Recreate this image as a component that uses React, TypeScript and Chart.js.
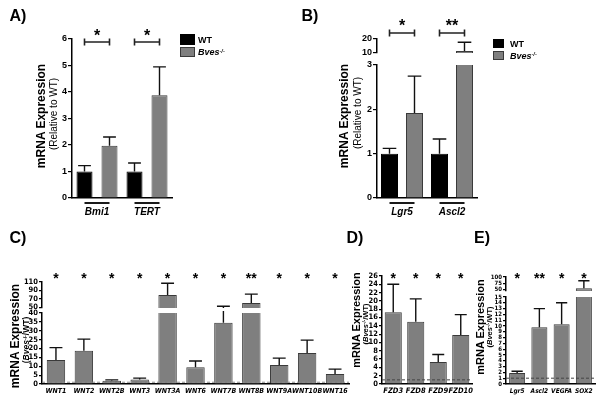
import React, { useEffect, useRef } from 'react';
import { Chart, registerables } from 'chart.js';
Chart.register(...registerables);

const FONT = "'Liberation Sans', Arial, Helvetica, sans-serif";
const NARROW = "'Liberation Sans Narrow', 'Arial Narrow', 'DejaVu Sans Condensed', 'Liberation Sans', sans-serif";
const GRAY = '#7f7f7f';
const EDGE = '#3a3a3a';

// ---------- Panel A ----------
const aGenes = ['Bmi1', 'TERT'];
const aWT = [1.0, 1.0];
const aWTErr = [0.22, 0.32];
const aKO = [1.97, 3.88];
const aKOErr = [0.33, 1.07];
const aTicks = [0, 1, 2, 3, 4, 5, 6];
const aSig = ['*', '*'];

// ---------- Panel B ----------
const bGenes = ['Lgr5', 'Ascl2'];
const bWT = [1.0, 1.0];
const bWTErr = [0.12, 0.33];
const bKO = [1.92, 11];
const bKOErr = [0.83, 6.6];
const bTicksLow = [0, 1, 2, 3];
const bTicksHigh = [10, 20];
const bSig = ['*', '**'];

// ---------- Panel C ----------
const cGenes = ['WNT1', 'WNT2', 'WNT2B', 'WNT3', 'WNT3A', 'WNT6', 'WNT7B', 'WNT8B', 'WNT9A', 'WNT10B', 'WNT16'];
const cVals = [13.5, 18.7, 1.8, 2.5, 79, 9.5, 34.5, 60, 10.7, 17.4, 5.6];
const cErr = [7.0, 6.6, 0.5, 0.8, 28, 3.5, 17.5, 21, 3.9, 7.3, 2.8];
const cSig = ['*', '*', '*', '*', '*', '*', '*', '**', '*', '*', '*'];
const cTicksLow = [0, 5, 10, 15, 20, 25, 30, 35, 40];
const cTicksHigh = [50, 70, 90, 110];

// ---------- Panel D ----------
const dGenes = ['FZD3', 'FZD8', 'FZD9', 'FZD10'];
const dVals = [17.3, 15.0, 5.3, 11.8];
const dErr = [6.7, 5.5, 1.8, 4.9];
const dSig = ['*', '*', '*', '*'];
const dTicks = [0, 2, 4, 6, 8, 10, 12, 14, 16, 18, 20, 22, 24, 26];

// ---------- Panel E ----------
const eGenes = ['Lgr5', 'Ascl2', 'VEGFA', 'SOX2'];
const eVals = [1.9, 9.8, 10.3, 56];
const eErr = [0.3, 3.2, 3.7, 29];
const eSig = ['*', '**', '*', '*'];
const eTicksLow = [0, 1, 2, 3, 4, 5, 6, 7, 8, 9, 10, 11, 12, 13, 14, 15];
const eTicksHigh = [50, 75, 100];

type Box = { x: number; y: number; w: number; h: number };
type Area = { l: number; t: number; r: number; b: number };
type DS = { data: number[]; color: string; border: string; err: number[] };
type Spec = {
  box: Box; area: Area; labels: string[]; datasets: DS[];
  min: number; max: number; ticks: number[]; yFont: number; yw: number; tickLen: number;
  family: string;
  showX: boolean; xFont?: number; xPad?: number; xh?: number; barPct: number;
  refLine?: number; refColor?: string; capFrac?: number;
  stars?: { labels: string[]; cy: number; size: number };
  brackets?: { labels: string[]; lineY: number; starCy: number; size: number };
  overline?: boolean;
};

function makePlugin(s: Spec) {
  return {
    id: 'annot',
    afterDatasetsDraw(chart: any) {
      const ctx = chart.ctx;
      const a = chart.chartArea;
      const ys = chart.scales.y;
      ctx.save();
      ctx.beginPath();
      ctx.rect(a.left, a.top - 2, a.right - a.left, a.bottom - a.top + 2);
      ctx.clip();
      if (s.refLine !== undefined) {
        const y = ys.getPixelForValue(s.refLine);
        ctx.setLineDash([3, 2]);
        ctx.strokeStyle = s.refColor || '#555';
        ctx.lineWidth = 1;
        ctx.beginPath();
        ctx.moveTo(a.left, y);
        ctx.lineTo(a.right, y);
        ctx.stroke();
        ctx.setLineDash([]);
      }
      ctx.strokeStyle = '#111';
      ctx.lineWidth = 1.4;
      s.datasets.forEach((ds, di) => {
        const meta = chart.getDatasetMeta(di);
        meta.data.forEach((bar: any, i: number) => {
          const v = ds.data[i];
          const e = ds.err[i];
          const y0 = ys.getPixelForValue(v);
          const y1 = ys.getPixelForValue(v + e);
          const hw = bar.width * (s.capFrac ?? 0.3);
          ctx.beginPath();
          ctx.moveTo(bar.x, y0);
          ctx.lineTo(bar.x, y1);
          ctx.moveTo(bar.x - hw, y1);
          ctx.lineTo(bar.x + hw, y1);
          ctx.stroke();
        });
      });
      ctx.restore();

      ctx.save();
      ctx.fillStyle = '#000';
      ctx.strokeStyle = '#222';
      ctx.textAlign = 'center';
      ctx.textBaseline = 'alphabetic';
      const oy = s.box.y;
      if (s.stars) {
        const st = s.stars;
        ctx.font = `bold ${st.size}px ${FONT}`;
        const meta = chart.getDatasetMeta(0);
        st.labels.forEach((lab, i) => {
          const x = meta.data[i].x;
          ctx.fillText(lab, x, st.cy - oy + st.size * 0.57);
        });
      }
      if (s.brackets) {
        const br = s.brackets;
        const m0 = chart.getDatasetMeta(0);
        const m1 = chart.getDatasetMeta(1);
        ctx.font = `bold ${br.size}px ${FONT}`;
        ctx.lineWidth = 1.6;
        br.labels.forEach((lab, i) => {
          const x0 = m0.data[i].x;
          const x1 = m1.data[i].x;
          const y = br.lineY - oy;
          ctx.beginPath();
          ctx.moveTo(x0, y);
          ctx.lineTo(x1, y);
          ctx.moveTo(x0, y - 3.5);
          ctx.lineTo(x0, y + 3.5);
          ctx.moveTo(x1, y - 3.5);
          ctx.lineTo(x1, y + 3.5);
          ctx.stroke();
          ctx.fillText(lab, (x0 + x1) / 2, br.starCy - oy + br.size * 0.57);
        });
      }
      if (s.overline) {
        const m0 = chart.getDatasetMeta(0);
        const m1 = chart.getDatasetMeta(1);
        ctx.strokeStyle = '#000';
        ctx.lineWidth = 1.8;
        m0.data.forEach((b0: any, i: number) => {
          const b1 = m1.data[i];
          ctx.beginPath();
          ctx.moveTo(b0.x, a.bottom + 5);
          ctx.lineTo(b1.x, a.bottom + 5);
          ctx.stroke();
        });
      }
      ctx.restore();
    },
  };
}

function buildConfig(s: Spec): any {
  const xh = s.showX ? (s.xh ?? 20) : 0;
  const pad = {
    left: s.area.l - s.box.x - s.yw,
    top: s.area.t - s.box.y,
    right: s.box.x + s.box.w - s.area.r,
    bottom: s.box.y + s.box.h - s.area.b - xh,
  };
  return {
    type: 'bar',
    data: {
      labels: s.labels,
      datasets: s.datasets.map((d) => ({
        data: d.data,
        backgroundColor: d.color,
        borderColor: d.border,
        borderWidth: 1,
        barPercentage: s.barPct,
        categoryPercentage: 1,
        clip: 0,
      })),
    },
    options: {
      responsive: false,
      animation: false,
      events: [],
      layout: { padding: pad },
      plugins: { legend: { display: false }, tooltip: { enabled: false } },
      scales: {
        x: {
          type: 'category',
          display: s.showX,
          offset: true,
          grid: { display: false, drawTicks: false },
          border: { display: true, color: '#000', width: 1.5 },
          ticks: {
            font: { family: s.family, size: s.xFont ?? 8, weight: 'bold', style: 'italic' },
            color: '#000',
            padding: s.xPad ?? 3,
            maxRotation: 0,
            minRotation: 0,
            autoSkip: false,
          },
          afterFit: (sc: any) => {
            sc.height = xh;
          },
        },
        y: {
          type: 'linear',
          min: s.min,
          max: s.max,
          afterBuildTicks: (sc: any) => {
            sc.ticks = s.ticks.map((v) => ({ value: v }));
          },
          afterFit: (sc: any) => {
            sc.width = s.yw;
          },
          grid: {
            display: true,
            drawOnChartArea: false,
            drawTicks: true,
            tickLength: s.tickLen,
            color: '#000',
            lineWidth: 1.2,
          },
          border: { display: true, color: '#000', width: 1.5 },
          ticks: {
            font: { family: s.family, size: s.yFont, weight: 'bold' },
            color: '#000',
            padding: 1,
            autoSkip: false,
          },
        },
      },
    },
    plugins: [makePlugin(s)],
  };
}

function ChartCanvas({ spec }: { spec: Spec }) {
  const ref = useRef<HTMLCanvasElement>(null);
  useEffect(() => {
    const chart = new Chart(ref.current as HTMLCanvasElement, buildConfig(spec));
    return () => chart.destroy();
  }, []);
  const b = spec.box;
  return (
    <canvas
      ref={ref}
      width={b.w}
      height={b.h}
      style={{ position: 'absolute', left: b.x, top: b.y, width: b.w, height: b.h }}
    />
  );
}

function T(props: {
  x: number; y: number; size: number; bold?: boolean; italic?: boolean; rot?: boolean; left?: boolean;
  family?: string; children: React.ReactNode;
}) {
  const { x, y, size, bold, italic, rot, left, family, children } = props;
  let transform = left ? 'translate(0,-50%)' : 'translate(-50%,-50%)';
  if (rot) transform += ' rotate(-90deg)';
  return (
    <div
      style={{
        position: 'absolute', left: x, top: y, transform, fontFamily: family || FONT, fontSize: size,
        fontWeight: bold ? 700 : 400, fontStyle: italic ? 'italic' : 'normal', whiteSpace: 'nowrap',
        lineHeight: 1, color: '#000',
      }}
    >
      {children}
    </div>
  );
}

const Sup = ({ children }: { children: React.ReactNode }) => (
  <span style={{ position: 'relative', top: '-0.45em', fontSize: '0.62em' }}>{children}</span>
);

const BvesRatio = () => (
  <>
    (<i>Bves</i>
    <Sup>-/-</Sup>/WT)
  </>
);

const specA: Spec = {
  box: { x: 0, y: 0, w: 300, h: 240 },
  area: { l: 72, t: 39, r: 172, b: 198 },
  labels: aGenes,
  datasets: [
    { data: aWT, color: '#000', border: '#000', err: aWTErr },
    { data: aKO, color: GRAY, border: EDGE, err: aKOErr },
  ],
  min: 0, max: 6, ticks: aTicks, yFont: 9, yw: 30, tickLen: 4, family: FONT,
  showX: true, xFont: 10, xPad: 8, xh: 25, barPct: 0.64, capFrac: 0.4,
  brackets: { labels: aSig, lineY: 42, starCy: 32, size: 16 },
  overline: true,
};

const specBLow: Spec = {
  box: { x: 300, y: 0, w: 302, h: 240 },
  area: { l: 377, t: 65, r: 477, b: 198 },
  labels: bGenes,
  datasets: [
    { data: bWT, color: '#000', border: '#000', err: bWTErr },
    { data: bKO, color: GRAY, border: EDGE, err: bKOErr },
  ],
  min: 0, max: 3, ticks: bTicksLow, yFont: 9, yw: 30, tickLen: 4, family: FONT,
  showX: true, xFont: 10, xPad: 8, xh: 25, barPct: 0.68, capFrac: 0.4,
  overline: true,
};

const specBHigh: Spec = {
  ...specBLow,
  area: { l: 377, t: 39, r: 477, b: 53 },
  min: 9.5, max: 20, ticks: bTicksHigh, showX: false, overline: false,
  brackets: { labels: bSig, lineY: 33, starCy: 22, size: 16 },
};

const cDatasets: DS[] = [{ data: cVals, color: GRAY, border: EDGE, err: cErr }];

const specCLow: Spec = {
  box: { x: 0, y: 240, w: 365, h: 180 },
  area: { l: 42, t: 313, r: 349, b: 384 },
  labels: cGenes, datasets: cDatasets,
  min: 0, max: 40, ticks: cTicksLow, yFont: 7.5, yw: 26, tickLen: 3, family: NARROW,
  showX: true, xFont: 7, xPad: 3, xh: 16, barPct: 0.66, capFrac: 0.35,
  refLine: 1, refColor: '#8a8a8a',
};

const specCHigh: Spec = {
  ...specCLow,
  area: { l: 42, t: 282, r: 349, b: 308 },
  min: 48, max: 110, ticks: cTicksHigh, showX: false, refLine: undefined,
  stars: { labels: cSig, cy: 275, size: 14 },
};

const specD: Spec = {
  box: { x: 355, y: 240, w: 140, h: 180 },
  area: { l: 382, t: 276, r: 472, b: 384 },
  labels: dGenes,
  datasets: [{ data: dVals, color: GRAY, border: EDGE, err: dErr }],
  min: 0, max: 26, ticks: dTicks, yFont: 7.5, yw: 22, tickLen: 3, family: NARROW,
  showX: true, xFont: 7.5, xPad: 3, xh: 16, barPct: 0.76, capFrac: 0.35,
  refLine: 1, refColor: '#444',
  stars: { labels: dSig, cy: 275, size: 14 },
};

const eDatasets: DS[] = [{ data: eVals, color: GRAY, border: EDGE, err: eErr }];

const specELow: Spec = {
  box: { x: 480, y: 240, w: 142, h: 180 },
  area: { l: 506, t: 297, r: 595, b: 384 },
  labels: eGenes, datasets: eDatasets,
  min: 0, max: 15, ticks: eTicksLow, yFont: 6, yw: 22, tickLen: 3, family: NARROW,
  showX: true, xFont: 6.5, xPad: 3, xh: 16, barPct: 0.72, capFrac: 0.35,
  refLine: 1, refColor: '#444',
};

const specEHigh: Spec = {
  ...specELow,
  area: { l: 506, t: 277, r: 595, b: 291 },
  min: 45, max: 100, ticks: eTicksHigh, showX: false, refLine: undefined,
  stars: { labels: eSig, cy: 275, size: 14 },
};

export default function App() {
  return (
    <div
      style={{
        position: 'fixed', left: 0, top: 0, width: 602, height: 403, overflow: 'hidden',
        background: '#fff',
      }}
    >
      <ChartCanvas spec={specA} />
      <ChartCanvas spec={specBLow} />
      <ChartCanvas spec={specBHigh} />
      <ChartCanvas spec={specCLow} />
      <ChartCanvas spec={specCHigh} />
      <ChartCanvas spec={specD} />
      <ChartCanvas spec={specELow} />
      <ChartCanvas spec={specEHigh} />

      {/* panel letters */}
      <T x={18} y={16} size={16} bold>A)</T>
      <T x={310} y={16} size={16} bold>B)</T>
      <T x={18} y={238} size={16} bold>C)</T>
      <T x={355} y={238} size={16} bold>D)</T>
      <T x={482} y={238} size={16} bold>E)</T>

      {/* y titles */}
      <T x={41} y={116} size={12} bold rot>mRNA Expression</T>
      <T x={54} y={114} size={10} rot>(Relative to WT)</T>
      <T x={344} y={116} size={12} bold rot>mRNA Expression</T>
      <T x={358} y={113} size={10} rot>(Relative to WT)</T>
      <T x={15} y={336} size={12} bold rot>mRNA Expression</T>
      <T x={26} y={340} size={8.5} bold rot><BvesRatio /></T>
      <T x={356} y={320} size={11} bold rot>mRNA Expression</T>
      <T x={366} y={324} size={7.5} bold rot><BvesRatio /></T>
      <T x={480} y={327} size={11} bold rot>mRNA Expression</T>
      <T x={490} y={327} size={7.5} bold rot><BvesRatio /></T>

      {/* legend A */}
      <div style={{ position: 'absolute', left: 180, top: 34, width: 15, height: 11, background: '#000' }} />
      <T x={198} y={39.5} size={9} bold left>WT</T>
      <div style={{ position: 'absolute', left: 180, top: 47, width: 15, height: 10, background: GRAY, boxSizing: 'border-box', border: `1px solid ${EDGE}` }} />
      <T x={198} y={52} size={9} bold italic left>Bves<Sup>-/-</Sup></T>

      {/* legend B */}
      <div style={{ position: 'absolute', left: 493, top: 39, width: 11, height: 9, background: '#000' }} />
      <T x={510} y={43.5} size={9} bold left>WT</T>
      <div style={{ position: 'absolute', left: 493, top: 51, width: 11, height: 9, background: GRAY, boxSizing: 'border-box', border: `1px solid ${EDGE}` }} />
      <T x={510} y={55.5} size={9} bold italic left>Bves<Sup>-/-</Sup></T>
    </div>
  );
}
